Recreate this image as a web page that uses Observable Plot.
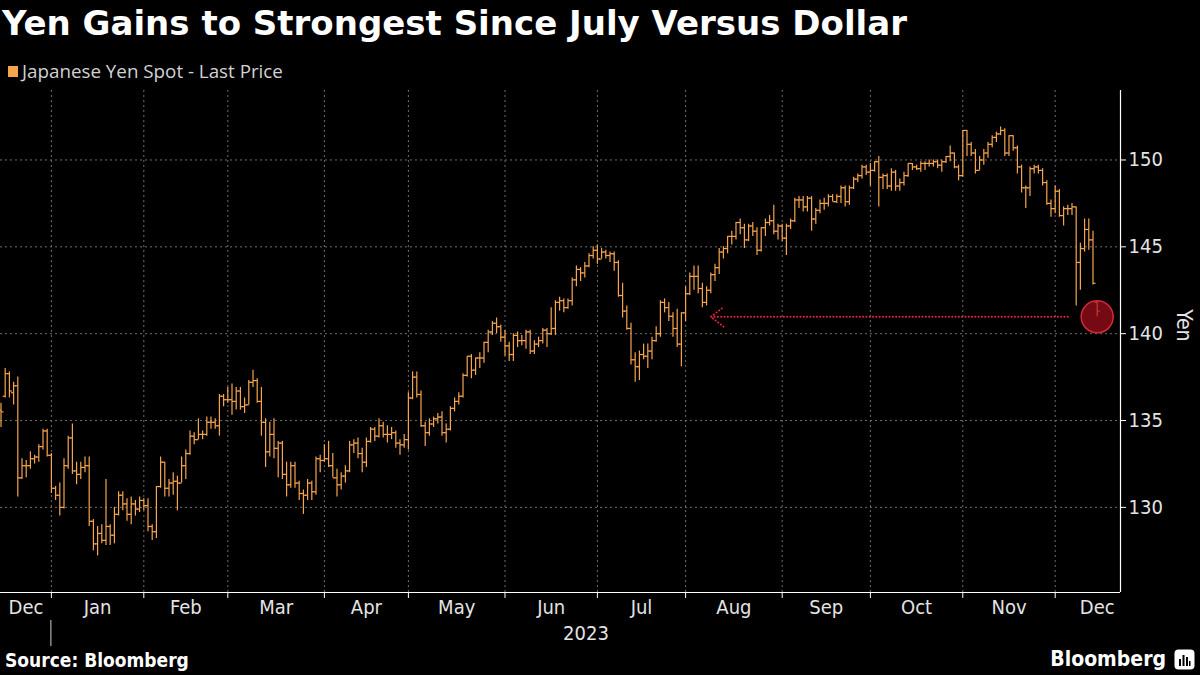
<!DOCTYPE html>
<html>
<head>
<meta charset="utf-8">
<script src="https://cdn.jsdelivr.net/npm/d3@7"></script>
<script src="https://cdn.jsdelivr.net/npm/@observablehq/plot@0.6"></script>
<style>
  html, body { margin: 0; padding: 0; background: #000; width: 1200px; height: 675px; overflow: hidden; }
  #header { position: relative; height: 85px; }
  #title { position: absolute; left: 2px; top: 3px; font-family: "DejaVu Sans", sans-serif; font-weight: bold; font-size: 34px; color: #fff; white-space: nowrap; }
  #legend { position: absolute; left: 8px; top: 58px; font-family: "Open Sans", sans-serif; font-size: 18.8px; color: #d2d2d2; display: flex; align-items: center; white-space: nowrap; }
  #legend .sw { width: 10px; height: 11px; background: #f6a54e; margin-right: 4px; }
  #chart { height: 560px; }
  #footer { position: relative; height: 30px; }
  #source { position: absolute; left: 5px; top: 4px; font-family: "DejaVu Sans Condensed", "DejaVu Sans", sans-serif; font-stretch: condensed; font-weight: bold; font-size: 19px; color: #fff; }
  #brand { position: absolute; right: 5px; top: 2px; display: flex; align-items: center; font-family: "DejaVu Sans Condensed", "DejaVu Sans", sans-serif; font-stretch: condensed; font-weight: bold; font-size: 21px; color: #fff; }
  #brand svg { margin-left: 8px; }
</style>
</head>
<body>
<div id="header">
  <div id="title">Yen Gains to Strongest Since July Versus Dollar</div>
  <div id="legend"><div class="sw"></div><span id="legendText"></span></div>
</div>
<div id="chart"></div>
<div id="footer">
  <div id="source">Source: Bloomberg</div>
  <div id="brand">Bloomberg<svg width="21" height="21" viewBox="0 0 21 21"><rect x="0.5" y="0.5" width="20" height="20" rx="4" fill="#fff"/><rect x="5" y="10" width="2" height="7" fill="#000"/><rect x="8.5" y="6" width="2" height="11" fill="#000"/><rect x="12" y="8" width="2" height="9" fill="#000"/><rect x="15" y="12" width="1.5" height="5" fill="#000"/></svg></div>
</div>
<script>
// ---- Data (USDJPY daily OHLC) ----
const seriesName = "Japanese Yen Spot - Last Price";
const firstDay = "2022-12-14";   // first trading day shown; weekdays follow
const open = [
  135.6,136.4,137.7,136.6,137.0,131.7,132.4,132.4,132.8,132.9,133.5,134.4,133.0,
  131.1,130.7,130.0,132.4,134.0,132.1,131.9,132.3,132.4,129.2,127.9,128.5,128.1,128.9,128.4,129.6,130.7,130.2,129.6,130.2,129.9,130.4,
  130.1,128.9,128.6,131.2,132.6,131.1,131.4,131.5,131.4,132.4,133.1,134.1,133.9,134.2,134.2,134.9,134.9,134.7,136.4,136.2,
  136.2,136.1,136.7,135.8,135.9,137.2,137.3,136.1,134.9,133.2,134.2,133.4,133.7,131.9,131.3,132.4,131.4,130.8,130.7,131.4,130.9,132.8,132.7,
  132.8,132.4,131.7,131.3,131.8,132.1,133.6,133.7,133.1,132.6,133.8,134.5,134.1,134.7,134.2,134.2,134.3,133.7,133.6,133.9,
  136.3,137.5,136.5,134.7,134.3,134.8,135.1,135.2,134.3,134.5,135.7,136.1,136.4,137.6,138.7,137.9,138.6,138.6,139.5,140.1,140.6,140.4,139.8,
  139.3,138.8,139.9,139.6,139.6,140.1,139.0,139.4,139.6,140.2,140.0,140.3,141.8,141.9,141.5,141.9,143.1,143.7,143.5,143.9,144.5,144.8,
  144.3,144.7,144.5,144.6,144.1,142.2,141.3,140.3,138.5,138.1,138.8,138.7,139.0,139.6,140.0,141.8,141.5,141.0,140.3,139.4,141.2,
  142.3,143.3,143.3,142.6,141.8,142.5,143.4,143.8,144.7,144.9,145.6,145.6,146.4,146.1,145.4,146.2,145.9,144.8,146.1,146.4,146.5,145.9,146.2,
  145.5,146.2,146.5,147.7,147.7,147.3,147.8,146.6,147.1,147.5,147.5,147.9,147.6,147.9,148.4,147.6,148.4,148.9,149.1,149.6,149.3,
  149.4,149.9,149.0,149.1,148.5,149.3,148.5,148.7,149.1,149.8,149.6,149.5,149.8,149.8,149.8,149.9,149.7,149.9,150.2,150.4,149.6,149.1,
  151.7,150.9,150.4,149.4,150.0,150.4,150.9,151.3,151.5,151.7,150.4,151.4,150.7,149.6,148.4,148.4,149.5,149.6,149.4,148.7,147.5,147.2,
  148.2,146.8,147.2,147.2,147.3,144.1,144.9,146.0,145.4,141.8
];
const high = [
  136.0,138.0,137.8,137.2,137.5,132.8,132.7,133.2,133.0,133.6,134.5,134.5,133.1,
  131.2,131.4,132.8,134.1,134.8,132.6,132.6,132.9,132.9,129.3,128.9,129.0,131.6,129.0,130.0,130.9,130.9,130.5,130.6,130.4,130.6,130.5,
  130.5,129.0,131.2,132.9,132.6,131.6,132.0,131.8,132.9,133.3,134.4,134.3,135.1,134.4,135.2,135.2,135.1,136.5,136.5,136.9,
  137.1,136.9,136.9,136.3,137.3,137.9,137.4,136.9,135.1,134.9,135.1,133.8,133.8,132.6,132.6,132.6,131.5,131.0,131.6,131.5,132.9,133.0,133.6,
  133.8,133.1,132.2,132.0,132.4,133.8,133.9,134.0,133.4,134.0,134.6,134.6,135.1,134.9,134.7,134.6,134.4,133.9,134.2,136.6,
  137.8,137.8,136.7,134.9,135.1,135.2,135.4,135.5,134.8,135.8,136.3,136.6,137.7,138.7,138.8,138.6,138.9,139.5,140.2,140.7,140.9,140.5,140.2,
  139.5,140.0,140.1,139.9,140.2,140.2,139.6,139.8,140.3,140.3,141.5,141.9,142.1,142.0,142.0,143.2,143.9,143.8,144.1,144.6,145.0,145.1,
  144.9,144.8,144.7,144.7,144.2,142.9,141.6,140.6,138.9,139.0,139.4,139.4,139.8,140.4,141.9,142.0,141.8,141.2,141.4,141.2,142.7,
  143.5,143.9,143.9,142.9,142.7,143.5,144.0,144.9,145.0,145.6,145.9,146.4,146.6,146.3,146.3,146.4,146.1,146.1,146.6,146.8,147.4,146.3,146.3,
  146.3,146.6,147.8,147.9,147.9,147.9,147.9,147.2,147.7,147.8,148.0,148.0,148.0,148.5,148.5,148.5,149.0,149.2,149.7,149.7,149.8,
  149.9,150.2,149.2,149.2,149.5,149.4,148.9,149.3,149.8,149.8,149.7,149.9,149.9,150.0,150.0,150.0,150.0,150.2,150.8,150.4,149.7,151.7,
  151.7,151.0,150.6,150.2,150.6,151.0,151.4,151.6,151.9,151.8,151.4,151.4,150.8,149.7,148.5,149.6,149.7,149.7,149.5,148.8,147.7,148.5,
  148.3,147.3,147.4,147.5,147.3,145.2,146.6,146.6,145.9,141.9
];
const low = [
  134.6,136.3,136.3,135.9,130.6,131.6,131.7,132.2,132.5,132.6,133.3,132.9,130.8,
  130.4,129.5,129.9,132.2,131.9,131.3,131.6,132.0,128.9,127.5,127.2,127.9,127.8,127.8,127.9,129.5,129.8,129.2,129.0,129.5,129.7,129.8,
  128.6,128.1,128.2,131.1,130.6,130.6,130.7,129.8,131.4,131.6,133.0,133.6,133.9,133.9,134.1,134.5,134.5,134.1,135.8,136.0,
  135.3,135.6,135.6,135.4,135.9,136.9,136.0,134.1,132.3,132.9,132.8,131.7,131.6,130.6,131.1,131.1,130.4,129.6,130.4,130.4,130.7,132.0,132.6,
  132.3,131.7,130.6,131.0,131.4,132.0,133.1,132.8,132.0,132.3,133.7,133.8,134.0,134.0,133.7,133.9,133.4,133.0,133.4,133.3,
  136.2,136.3,134.6,133.5,134.1,134.6,134.8,134.1,133.7,134.4,135.5,135.9,136.3,137.5,137.4,137.6,138.0,138.3,138.9,139.9,140.0,139.5,138.7,
  138.4,138.4,139.2,139.3,139.1,138.8,138.8,139.2,139.4,139.2,139.9,139.9,141.3,141.2,141.4,141.6,142.7,143.0,143.2,143.8,144.3,144.0,
  144.3,144.3,144.1,143.6,142.1,140.9,140.2,138.2,137.2,137.3,138.5,138.0,138.5,139.5,139.8,141.2,140.7,139.8,139.2,138.1,140.7,
  142.2,142.5,142.3,141.5,141.6,142.3,143.0,143.4,144.3,144.6,145.1,145.4,145.7,144.9,145.3,145.6,144.5,144.7,145.6,146.2,145.7,145.4,145.3,
  144.5,146.0,146.4,147.2,147.0,147.0,145.9,146.3,146.9,147.1,147.3,147.6,147.5,147.5,147.3,147.4,148.3,148.7,148.9,149.1,148.5,
  149.3,147.3,148.3,148.3,148.2,148.2,148.2,148.5,149.0,149.4,149.4,149.3,149.4,149.6,149.6,149.5,149.3,149.8,149.9,149.5,148.8,149.0,
  150.2,150.2,149.2,149.4,149.7,150.1,150.7,151.0,151.4,150.2,150.2,150.5,149.2,148.1,147.2,147.9,149.2,149.2,148.5,147.4,146.7,146.9,
  146.7,146.2,146.8,146.8,141.6,142.5,144.7,144.8,142.8,140.97
];
const close = [
  135.5,137.7,136.7,137.0,131.7,132.4,132.4,132.8,132.9,133.5,134.4,133.0,131.1,
  130.7,130.0,132.4,134.0,132.1,131.9,132.3,132.4,129.2,127.9,128.5,128.1,128.9,128.4,129.6,130.7,130.2,129.6,130.2,129.9,130.4,130.1,
  128.9,128.6,131.2,132.6,131.1,131.4,131.5,131.4,132.4,133.1,134.1,133.9,134.2,134.2,134.9,134.9,134.7,136.4,136.2,136.2,
  136.1,136.7,135.8,135.9,137.2,137.3,136.1,134.9,133.2,134.2,133.4,133.7,131.9,131.3,132.4,131.4,130.8,130.7,131.4,130.9,132.8,132.7,132.8,
  132.4,131.7,131.3,131.8,132.1,133.6,133.7,133.1,132.6,133.8,134.5,134.1,134.7,134.2,134.2,134.3,133.7,133.6,133.9,136.3,
  137.5,136.5,134.7,134.3,134.8,135.1,135.2,134.3,134.5,135.7,136.1,136.4,137.6,138.7,137.9,138.6,138.6,139.5,140.1,140.6,140.4,139.8,139.3,
  138.8,139.9,139.6,139.6,140.1,139.0,139.4,139.6,140.2,140.0,140.3,141.8,141.9,141.5,141.9,143.1,143.7,143.5,143.9,144.5,144.8,144.3,
  144.7,144.5,144.6,144.1,142.2,141.3,140.3,138.5,138.1,138.8,138.7,139.0,139.6,140.0,141.8,141.5,141.0,140.3,139.4,141.2,142.3,
  143.3,143.3,142.6,141.8,142.5,143.4,143.8,144.7,144.9,145.6,145.6,146.4,146.1,145.4,146.2,145.9,144.8,146.1,146.4,146.5,145.9,146.2,145.5,
  146.2,146.5,147.7,147.7,147.3,147.8,146.6,147.1,147.5,147.5,147.9,147.6,147.9,148.4,147.6,148.4,148.9,149.1,149.6,149.3,149.4,
  149.9,149.0,149.1,148.5,149.3,148.5,148.7,149.1,149.8,149.6,149.5,149.8,149.8,149.8,149.9,149.7,149.9,150.2,150.4,149.6,149.1,151.7,
  150.9,150.4,149.4,150.0,150.4,150.9,151.3,151.5,151.7,150.4,151.4,150.7,149.6,148.4,148.4,149.5,149.6,149.4,148.7,147.5,147.2,148.2,
  146.8,147.2,147.2,147.3,144.1,144.9,146.0,145.4,142.9,141.3
];
const yTicks = [130, 135, 140, 145, 150];
const yearLabel = "2023";
const axisLabel = "Yen";
// annotation: dotted arrow back to the July level, circle on the latest bar
const arrowFromDate = "2023-12-05";
const arrowToDate = "2023-08-08";

// ---- Build table ----
const fmtDay = d3.utcFormat("%Y-%m-%d");
const start = new Date(firstDay + "T00:00:00Z");
const dates = d3.utcDays(start, d3.utcDay.offset(start, 420))
  .filter(d => d.getUTCDay() !== 0 && d.getUTCDay() !== 6)
  .slice(0, close.length);
const data = dates.map((d, i) => ({ i, date: d, open: open[i], high: high[i], low: low[i], close: close[i] }));
const last = data[data.length - 1];
const idxOf = s => data.findIndex(d => fmtDay(d.date) === s);

// month boundaries: last trading day of each month
const gridIdx = [];
for (let k = 0; k < data.length - 1; k++) {
  if (data[k].date.getUTCMonth() !== data[k + 1].date.getUTCMonth()) gridIdx.push(k);
}
const xDomain = [-0.12, 266.55];
const yDomain = [125.1, 154.0];
const fmtMon = d3.utcFormat("%b");
const bounds = [xDomain[0], ...gridIdx, last.i + (last.i - gridIdx[gridIdx.length - 1])];
const monthLabels = d3.range(bounds.length - 1).map(k => {
  const a = bounds[k], b = bounds[k + 1];
  const dIdx = Math.min(data.length - 1, Math.max(0, Math.round((a + b) / 2)));
  return { pos: (a + b) / 2, name: fmtMon(data[dIdx].date) };
});

document.getElementById("legendText").textContent = seriesName;

const BAR = "#f6a54e";
const AXIS_FONT = '"Liberation Sans Narrow", "DejaVu Sans Condensed", "Arial Narrow", sans-serif';
const arrow = [{ x1: idxOf(arrowFromDate), x2: idxOf(arrowToDate), y: last.low }];

const chart = Plot.plot({
  width: 1200,
  height: 560,
  marginTop: 5,
  marginBottom: 53,
  marginLeft: 0,
  marginRight: 80,
  style: { background: "transparent", color: "#e4e4e4", fontFamily: AXIS_FONT, fontSize: "20px", overflow: "visible" },
  x: { type: "linear", domain: xDomain, axis: null },
  y: { domain: yDomain, axis: null },
  marks: [
    Plot.gridY(yTicks, { stroke: "#6e6e6e", strokeOpacity: 1, strokeDasharray: "2,3" }),
    Plot.gridX(gridIdx, { stroke: "#6e6e6e", strokeOpacity: 1, strokeDasharray: "2,3" }),
    Plot.ruleY([yDomain[0]], { stroke: "#ffffff", strokeWidth: 1.2 }),
    Plot.ruleX([xDomain[1]], { stroke: "#ffffff", strokeWidth: 1.2 }),
    Plot.axisX(gridIdx, { anchor: "bottom", tickSize: 6, tickFormat: () => "", stroke: "#ffffff" }),
    Plot.axisY(yTicks, { anchor: "right", tickSize: 5, tickPadding: 3, label: null, stroke: "#ffffff", fill: "#e4e4e4", fontSize: 20 }),
    Plot.text(monthLabels, { x: "pos", text: "name", frameAnchor: "bottom", dy: 21, fill: "#e4e4e4", fontSize: 20 }),
    Plot.text([yearLabel], { x: () => (gridIdx[0] + xDomain[1]) / 2, text: d => d, frameAnchor: "bottom", dy: 47, fill: "#e4e4e4", fontSize: 20 }),
    Plot.text([axisLabel], { text: d => d, frameAnchor: "right", rotate: 90, dx: 63, fill: "#e4e4e4", fontSize: 21 }),
    // OHLC bars
    Plot.ruleX(data, { x: "i", y1: "low", y2: "high", stroke: BAR, strokeWidth: 1.2 }),
    Plot.link(data, { x1: d => d.i - 0.6, x2: "i", y1: "open", y2: "open", stroke: BAR, strokeWidth: 1.2 }),
    Plot.link(data, { x1: "i", x2: d => d.i + 0.6, y1: "close", y2: "close", stroke: BAR, strokeWidth: 1.2 }),
    // annotation
    Plot.arrow(arrow, { x1: "x1", x2: "x2", y1: "y", y2: "y", stroke: "#e8243c", strokeWidth: 2, strokeDasharray: "0.1,3.2", strokeLinecap: "round", headLength: 12, headAngle: 75 }),
    Plot.dot([last], { x: "i", y: "low", r: 16, fill: "#a80e1c", fillOpacity: 0.7, stroke: "#d22a3c", strokeWidth: 1.5 })
  ]
});

document.getElementById("chart").appendChild(chart);

// year separator tick under the Dec | Jan boundary
const xs = chart.scale("x");
const sx = xs.apply(gridIdx[0]);
d3.select(chart).append("line")
  .attr("x1", sx).attr("x2", sx)
  .attr("y1", 535).attr("y2", 561)
  .attr("stroke", "#cfcfcf").attr("stroke-width", 1);
</script>
</body>
</html>
